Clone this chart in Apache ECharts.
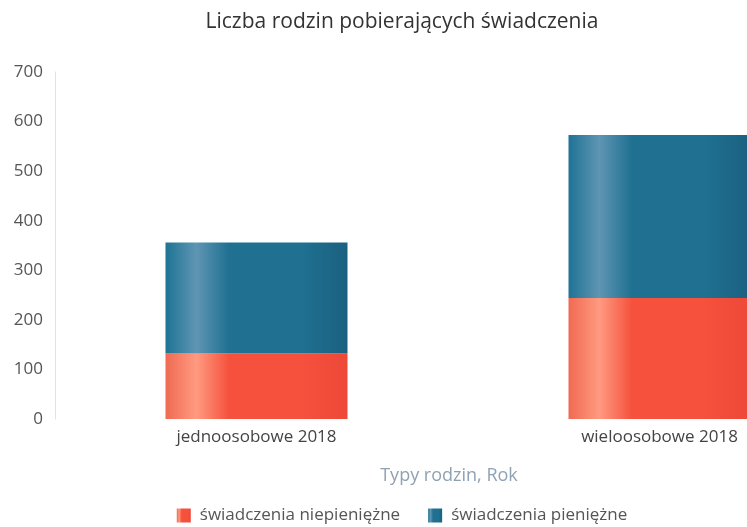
<!DOCTYPE html>
<html lang="pl">

<head>
    <meta charset="UTF-8">
    <title>Liczba rodzin pobierających świadczenia</title>
    <script src="https://cdn.jsdelivr.net/npm/echarts@6/dist/echarts.min.js"></script>
    <style>
        html, body { margin: 0; padding: 0; overflow: hidden; background: #fff; }
    </style>
</head>

<body>
    <div id="main" style="width: 804px;height:527px;"></div>
    <script type="text/javascript">
        // dane
        var kategorie = ['jednoosobowe 2018', 'wieloosobowe 2018']
        var niepieniezne = [132, 244]
        var pieniezne = [224, 329]
        var osY = [0, 100, 200, 300, 400, 500, 600, 700]

        // "walcowy" gradient jak na oryginale
        var gradient = (krawedz, jasny, srodek, ciemny) => new echarts.graphic.LinearGradient(0, 0, 1, 0, [
            { offset: 0, color: krawedz },
            { offset: 0.17, color: jasny },
            { offset: 0.35, color: srodek },
            { offset: 0.75, color: srodek },
            { offset: 1, color: ciemny }
        ])

        var myChart = echarts.init(document.getElementById('main'))
        var font = 'Open Sans'

        var option = {
            animation: false,
            title: {
                text: 'Liczba rodzin pobierających świadczenia',
                left: 'center',
                top: 7,
                textStyle: { fontFamily: font, fontSize: 21, fontWeight: 'normal', color: '#333' }
            },
            legend: {
                bottom: -2,
                left: 'center',
                itemWidth: 14,
                itemHeight: 14,
                itemGap: 28,
                icon: 'rect',
                textStyle: { fontFamily: font, fontSize: 17, color: '#555', padding: [0, 0, 0, 4] },
                data: ['świadczenia niepieniężne', 'świadczenia pieniężne']
            },
            grid: { left: 55, width: 806, top: 72, bottom: 108, containLabel: false, outerBoundsMode: 'none' },
            xAxis: {
                type: 'category',
                data: kategorie,
                name: 'Typy rodzin, Rok',
                nameLocation: 'middle',
                nameGap: 48,
                nameTextStyle: { fontFamily: font, fontSize: 18, color: '#8fa2b4', padding: [0, 18, 0, 0] },
                axisLine: { show: false },
                axisTick: { show: false },
                axisLabel: { fontFamily: font, fontSize: 17, color: '#444', margin: 10 }
            },
            yAxis: {
                type: 'value',
                min: osY[0],
                max: osY[osY.length - 1],
                interval: 100,
                axisLine: { show: true, lineStyle: { color: '#e2e2e2' } },
                axisTick: { show: false },
                splitLine: { show: false },
                axisLabel: { fontFamily: font, fontSize: 17, color: '#555', margin: 12 }
            },
            series: [{
                name: 'świadczenia niepieniężne',
                type: 'bar',
                stack: 'razem',
                barWidth: 182,
                data: niepieniezne,
                itemStyle: { color: gradient('#f06a52', '#ff9a80', '#f5513d', '#ee4838') }
            }, {
                name: 'świadczenia pieniężne',
                type: 'bar',
                stack: 'razem',
                barWidth: 182,
                data: pieniezne,
                itemStyle: { color: gradient('#1e7395', '#5f95b3', '#1f7091', '#1b6080') }
            }]
        }
        myChart.setOption(option)
    </script>
</body>

</html>
